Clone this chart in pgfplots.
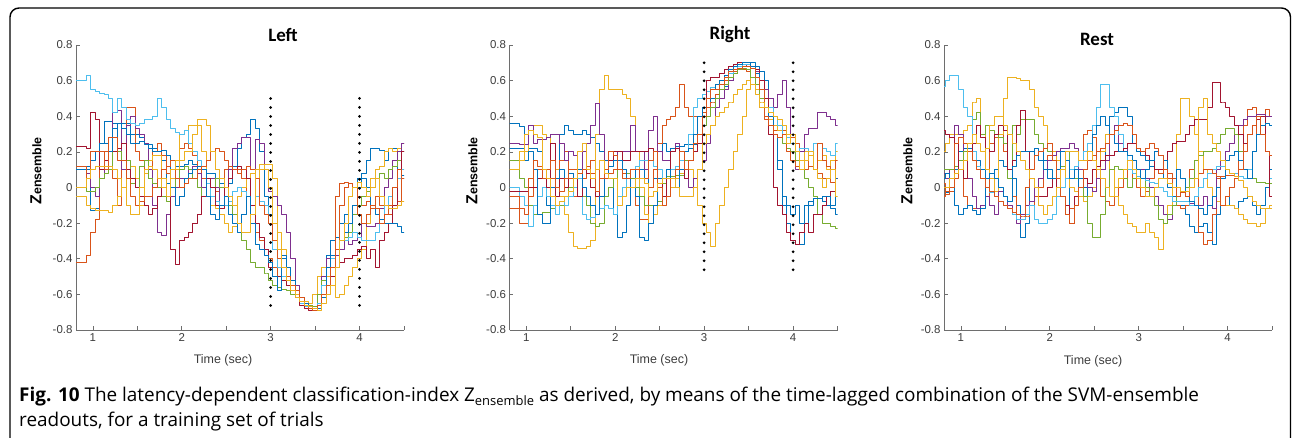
\documentclass[border=0pt]{standalone}
\usepackage{pgfplots}
\pgfplotsset{compat=1.18}
\usepackage{fontspec}
\setmainfont{Liberation Sans}
\newfontfamily\capfont{Open Sans}
\newfontfamily\titlefont{Carlito}
\definecolor{c1}{RGB}{0,114,189}
\definecolor{c2}{RGB}{217,83,25}
\definecolor{c3}{RGB}{237,177,32}
\definecolor{c4}{RGB}{126,47,142}
\definecolor{c5}{RGB}{119,172,48}
\definecolor{c6}{RGB}{77,190,238}
\definecolor{c7}{RGB}{162,20,47}
\definecolor{axgray}{RGB}{110,110,110}
\definecolor{labgray}{RGB}{60,60,60}
\newcommand{\series}[2]{\addplot[#1] table[x expr={0.8+0.05*\coordindex}, y index=0, header=false, row sep=\\]{#2};}
\pgfplotsset{
 panel/.style={
  scale only axis, width=328bp, height=285bp, anchor=south west,
  xmin=0.81, xmax=4.5, ymin=-0.8, ymax=0.8,
  axis x line*=bottom, axis y line*=left,
  axis line style={axgray, line width=0.7bp, -},
  xtick={1,2,3,4}, xticklabels={1,2,3,4},
  minor xtick={1.5,2.5,3.5,4.5},
  ytick={-0.8,-0.6,-0.4,-0.2,0,0.2,0.4,0.6,0.8},
  yticklabels={-0.8,-0.6,-0.4,-0.2,0,0.2,0.4,0.6,0.8},
  tick align=inside, major tick length=3.5bp, minor tick length=3.5bp,
  tick style={axgray, line width=0.7bp},
  ticklabel style={font=\fontsize{11.5}{12}\selectfont, text=labgray},
  every axis plot/.append style={line width=0.9bp, line join=round, mark=none, const plot mark mid},
 },
 vdots/.style={black, line width=3bp, line cap=round, dash pattern=on 0bp off 9bp, sharp plot},
}
\begin{document}
\begin{tikzpicture}[x=1bp,y=1bp]
\useasboundingbox (0,0) rectangle (1292,438);
\draw[line width=1.4bp, rounded corners=9bp] (10,-10) -- (10,430) -- (1290.5,430) -- (1290.5,-10);
% ---------------- LEFT ----------------
\begin{axis}[panel, at={(76bp,108bp)}]
\series{c1}{0.10\\0.10\\0.10\\0.10\\-0.13\\-0.12\\0.25\\0.37\\0.37\\0.36\\0.22\\0.36\\0.36\\0.30\\0.30\\0.28\\0.25\\0.24\\0.22\\0.20\\0.15\\0.02\\-0.05\\0.12\\0.12\\0.13\\0.15\\0.13\\0.12\\0.10\\0.08\\0.08\\0.05\\0.02\\-0.05\\0.02\\0.12\\0.22\\0.28\\0.30\\0.38\\0.33\\0.20\\-0.05\\-0.15\\-0.30\\-0.35\\-0.40\\-0.45\\-0.52\\-0.60\\-0.65\\-0.66\\-0.67\\-0.68\\-0.60\\-0.45\\-0.38\\-0.30\\-0.28\\-0.20\\-0.15\\-0.05\\0.00\\0.05\\0.08\\0.15\\0.22\\0.22\\0.21\\0.15\\0.22\\0.22\\0.05\\0.07\\0.06\\0.10\\}
\series{c2}{-0.42\\-0.42\\-0.42\\-0.38\\-0.25\\-0.18\\0.10\\0.20\\0.20\\0.05\\-0.10\\0.10\\0.45\\0.45\\0.20\\0.15\\0.10\\0.05\\0.20\\0.25\\0.18\\0.08\\0.10\\0.15\\0.22\\0.25\\0.22\\0.18\\0.12\\0.05\\0.02\\-0.05\\-0.02\\0.05\\0.10\\0.12\\0.10\\0.10\\0.05\\-0.05\\-0.15\\-0.25\\-0.30\\-0.35\\-0.40\\-0.45\\-0.50\\-0.52\\-0.55\\-0.58\\-0.62\\-0.65\\-0.67\\-0.68\\-0.69\\-0.66\\-0.60\\-0.50\\-0.40\\-0.05\\0.02\\0.03\\0.02\\0.00\\-0.05\\-0.10\\-0.08\\-0.12\\-0.05\\-0.10\\-0.15\\-0.15\\-0.10\\-0.08\\0.05\\0.07\\0.08\\}
\series{c3}{-0.05\\-0.05\\-0.05\\-0.10\\-0.12\\-0.13\\-0.13\\-0.13\\-0.14\\-0.10\\-0.05\\0.00\\0.10\\0.12\\0.05\\-0.10\\0.08\\0.15\\0.18\\0.18\\0.05\\-0.05\\0.05\\0.10\\0.30\\0.32\\0.35\\0.35\\0.35\\0.20\\0.05\\-0.10\\-0.12\\-0.15\\-0.20\\-0.25\\-0.22\\-0.05\\0.00\\0.05\\0.08\\0.05\\0.10\\0.13\\0.13\\0.05\\-0.25\\-0.35\\-0.45\\-0.55\\-0.60\\-0.62\\-0.64\\-0.65\\-0.60\\-0.50\\-0.45\\-0.50\\-0.55\\-0.62\\-0.60\\-0.55\\-0.50\\-0.45\\-0.40\\-0.35\\-0.20\\0.05\\0.10\\0.12\\0.20\\0.22\\0.20\\0.22\\0.25\\0.30\\0.35\\}
\series{c4}{0.12\\0.12\\0.12\\0.08\\0.00\\-0.05\\0.05\\0.15\\0.20\\0.42\\0.43\\0.10\\0.35\\0.40\\0.33\\0.30\\0.25\\0.10\\-0.10\\-0.25\\-0.27\\-0.15\\-0.05\\0.00\\0.05\\0.05\\0.10\\0.12\\0.08\\0.00\\-0.05\\0.05\\0.00\\-0.10\\-0.05\\0.10\\0.22\\0.25\\0.28\\0.28\\0.10\\0.27\\0.25\\0.10\\-0.02\\-0.05\\-0.10\\-0.15\\-0.25\\-0.40\\-0.55\\-0.62\\-0.65\\-0.66\\-0.67\\-0.60\\-0.50\\-0.40\\-0.40\\-0.38\\-0.35\\-0.30\\-0.32\\-0.30\\-0.28\\-0.20\\-0.22\\-0.22\\-0.20\\-0.12\\0.00\\0.05\\0.15\\0.20\\0.25\\0.33\\0.36\\}
\series{c5}{0.00\\0.00\\0.00\\-0.02\\-0.02\\0.00\\0.05\\0.08\\0.10\\0.20\\0.20\\0.15\\0.15\\0.02\\0.00\\0.12\\0.15\\0.05\\0.02\\0.00\\-0.05\\-0.08\\0.00\\0.05\\0.10\\0.12\\0.10\\0.05\\0.00\\-0.05\\-0.05\\0.00\\0.05\\0.00\\-0.05\\-0.10\\-0.15\\-0.20\\-0.30\\-0.35\\-0.42\\-0.45\\-0.45\\-0.48\\-0.52\\-0.55\\-0.56\\-0.57\\-0.58\\-0.60\\-0.62\\-0.64\\-0.65\\-0.66\\-0.67\\-0.60\\-0.52\\-0.45\\-0.38\\-0.35\\-0.30\\-0.28\\-0.25\\-0.15\\-0.10\\-0.05\\-0.02\\0.00\\0.05\\0.08\\0.05\\0.10\\0.12\\0.15\\0.20\\0.22\\0.15\\}
\series{c6}{0.60\\0.60\\0.60\\0.63\\0.55\\0.54\\0.53\\0.52\\0.50\\0.42\\0.50\\0.45\\0.38\\0.36\\0.35\\0.36\\0.38\\0.38\\0.40\\0.50\\0.45\\0.38\\0.33\\0.31\\0.30\\0.32\\0.25\\0.20\\0.15\\0.10\\0.02\\-0.05\\-0.08\\-0.10\\-0.10\\-0.08\\-0.02\\0.00\\-0.02\\-0.05\\-0.10\\-0.05\\-0.08\\-0.10\\-0.20\\-0.35\\-0.45\\-0.50\\-0.55\\-0.58\\-0.62\\-0.65\\-0.67\\-0.68\\-0.68\\-0.65\\-0.55\\-0.45\\-0.40\\-0.35\\-0.30\\-0.30\\-0.28\\-0.25\\-0.28\\-0.30\\-0.30\\-0.30\\-0.25\\-0.20\\-0.10\\-0.05\\0.00\\0.05\\0.10\\0.12\\0.10\\}
\series{c7}{0.23\\0.23\\0.23\\0.22\\0.42\\0.38\\0.10\\0.15\\0.20\\0.20\\0.22\\0.25\\0.10\\0.05\\0.00\\-0.05\\-0.10\\-0.15\\-0.12\\-0.05\\0.00\\-0.05\\-0.35\\-0.43\\-0.30\\-0.28\\-0.25\\-0.20\\-0.15\\-0.05\\0.05\\0.00\\-0.10\\-0.12\\0.00\\0.05\\0.10\\0.12\\0.10\\0.05\\-0.10\\-0.20\\-0.28\\-0.35\\-0.45\\-0.50\\-0.50\\-0.52\\-0.55\\-0.58\\-0.62\\-0.66\\-0.68\\-0.69\\-0.69\\-0.66\\-0.62\\-0.55\\-0.50\\-0.45\\-0.42\\-0.40\\-0.40\\-0.38\\-0.35\\-0.33\\-0.40\\-0.35\\-0.45\\-0.30\\-0.25\\-0.20\\-0.10\\0.10\\0.20\\0.22\\0.25\\}
\series{c1}{0.10\\0.10\\0.10\\0.12\\0.15\\0.20\\0.25\\0.25\\0.20\\0.33\\0.36\\0.33\\0.30\\0.25\\0.25\\0.26\\0.24\\0.22\\0.20\\0.20\\0.21\\0.18\\0.00\\-0.10\\-0.05\\0.05\\0.08\\0.10\\0.12\\0.10\\-0.05\\-0.15\\-0.18\\-0.10\\-0.05\\-0.15\\-0.20\\-0.25\\-0.15\\-0.05\\-0.20\\-0.32\\-0.35\\-0.38\\-0.42\\-0.50\\-0.58\\-0.38\\-0.45\\-0.52\\-0.58\\-0.62\\-0.65\\-0.67\\-0.68\\-0.68\\-0.62\\-0.45\\-0.38\\-0.35\\-0.30\\-0.25\\-0.20\\-0.10\\0.00\\0.05\\0.00\\-0.10\\-0.15\\-0.18\\-0.20\\-0.20\\-0.20\\-0.22\\-0.25\\-0.28\\-0.30\\}
\series{c2}{0.12\\0.12\\0.12\\0.05\\0.20\\0.20\\0.20\\0.10\\0.28\\0.28\\0.15\\0.15\\0.05\\-0.05\\-0.10\\-0.08\\-0.05\\-0.05\\0.00\\0.05\\0.10\\0.12\\0.15\\0.05\\0.00\\0.02\\0.05\\0.05\\0.10\\0.12\\0.15\\0.20\\0.22\\0.20\\0.15\\0.12\\0.10\\0.08\\0.10\\0.12\\0.10\\0.05\\-0.10\\-0.15\\-0.20\\-0.30\\-0.40\\-0.45\\-0.50\\-0.55\\-0.58\\-0.62\\-0.66\\-0.68\\-0.69\\-0.66\\-0.60\\-0.55\\-0.45\\-0.35\\-0.10\\0.00\\0.02\\0.00\\-0.15\\-0.20\\-0.15\\-0.10\\-0.12\\-0.20\\-0.15\\-0.10\\0.00\\0.10\\0.05\\0.07\\0.08\\}
\series{c3}{0.00\\0.00\\0.00\\0.05\\0.10\\0.12\\0.12\\0.12\\0.12\\0.10\\0.05\\0.00\\-0.10\\-0.15\\-0.15\\0.00\\0.10\\0.12\\0.10\\0.05\\0.00\\-0.05\\0.10\\0.15\\0.15\\0.20\\0.20\\0.30\\0.38\\0.38\\0.35\\0.20\\0.10\\0.05\\0.00\\-0.05\\-0.10\\-0.20\\-0.25\\-0.25\\-0.15\\0.10\\0.13\\0.10\\0.00\\-0.20\\-0.35\\-0.45\\-0.52\\-0.58\\-0.62\\-0.64\\-0.66\\-0.67\\-0.68\\-0.69\\-0.65\\-0.60\\-0.55\\-0.45\\-0.30\\-0.20\\-0.05\\0.00\\0.03\\0.00\\-0.05\\0.00\\0.05\\-0.05\\-0.10\\-0.12\\-0.12\\-0.10\\-0.08\\-0.05\\-0.05\\}
\addplot[vdots] coordinates {(3,0.5) (3,-0.7)};
\addplot[vdots] coordinates {(4,0.5) (4,-0.7)};
\end{axis}
% ---------------- RIGHT ----------------
\begin{axis}[panel, at={(509.5bp,108bp)}]
\series{c1}{0.36\\0.36\\0.36\\0.34\\0.30\\0.22\\0.22\\0.20\\0.05\\-0.10\\0.00\\0.05\\0.30\\0.35\\0.32\\0.30\\0.30\\0.32\\0.30\\0.28\\0.25\\0.20\\0.15\\0.05\\-0.15\\-0.28\\-0.25\\-0.10\\0.05\\0.10\\0.10\\0.05\\0.00\\0.05\\0.20\\0.25\\0.20\\0.22\\0.23\\0.23\\0.24\\0.24\\0.24\\0.25\\0.35\\0.45\\0.50\\0.52\\0.55\\0.57\\0.60\\0.65\\0.68\\0.70\\0.70\\0.70\\0.68\\0.65\\0.60\\0.50\\0.30\\0.10\\-0.10\\-0.20\\-0.30\\-0.32\\-0.32\\-0.20\\-0.10\\-0.06\\-0.06\\-0.08\\-0.10\\-0.12\\-0.15\\-0.18\\-0.20\\}
\series{c2}{-0.12\\-0.12\\-0.12\\-0.20\\-0.20\\-0.05\\0.10\\0.10\\0.05\\0.00\\0.05\\0.10\\0.15\\0.20\\0.05\\-0.05\\0.10\\0.05\\0.12\\0.15\\0.10\\0.05\\0.05\\0.08\\0.10\\0.10\\0.08\\0.05\\0.00\\-0.10\\-0.18\\-0.18\\0.00\\0.10\\0.25\\0.35\\0.38\\0.40\\0.45\\0.58\\0.45\\0.40\\0.40\\0.40\\0.42\\0.45\\0.48\\0.52\\0.55\\0.60\\0.62\\0.65\\0.66\\0.66\\0.65\\0.62\\0.55\\0.45\\0.38\\0.35\\0.32\\0.32\\0.32\\0.30\\0.28\\0.25\\0.20\\0.15\\0.12\\0.10\\0.08\\0.05\\0.05\\0.03\\0.05\\0.10\\0.10\\}
\series{c3}{0.15\\0.15\\0.15\\0.20\\0.20\\0.35\\0.35\\0.35\\0.30\\0.28\\0.25\\0.10\\-0.05\\-0.15\\-0.25\\-0.33\\-0.34\\-0.34\\-0.33\\-0.30\\0.30\\0.55\\0.63\\0.55\\0.55\\0.55\\0.52\\0.50\\0.40\\0.20\\0.00\\-0.15\\-0.20\\-0.15\\-0.10\\-0.05\\-0.05\\0.00\\0.05\\0.08\\0.10\\0.10\\0.05\\-0.10\\-0.20\\-0.25\\-0.33\\-0.20\\-0.10\\0.00\\0.10\\0.20\\0.30\\0.40\\0.55\\0.68\\0.55\\0.45\\0.40\\0.38\\0.35\\0.32\\0.30\\0.30\\0.25\\0.20\\0.15\\0.20\\0.18\\0.25\\0.15\\0.18\\0.10\\0.15\\0.20\\0.15\\0.18\\}
\series{c4}{0.25\\0.25\\0.25\\0.24\\0.24\\0.35\\0.25\\0.27\\0.27\\0.28\\0.30\\0.30\\0.25\\0.15\\0.20\\0.18\\0.10\\0.20\\0.25\\0.35\\0.47\\0.30\\0.10\\0.15\\0.18\\0.20\\0.20\\0.20\\0.35\\0.20\\0.20\\0.10\\0.32\\0.40\\0.20\\0.15\\0.15\\0.20\\0.25\\0.10\\0.05\\0.00\\0.05\\0.10\\0.15\\0.25\\0.35\\0.45\\0.50\\0.55\\0.60\\0.64\\0.66\\0.68\\0.69\\0.68\\0.65\\0.60\\0.55\\0.50\\0.45\\0.52\\0.60\\0.45\\0.30\\0.10\\0.20\\0.30\\0.33\\0.33\\0.42\\0.42\\0.40\\0.38\\0.35\\0.30\\0.30\\}
\series{c5}{0.15\\0.15\\0.15\\0.05\\0.00\\-0.10\\-0.15\\-0.15\\-0.14\\-0.14\\-0.12\\-0.10\\-0.10\\-0.05\\0.00\\0.05\\0.05\\-0.05\\-0.10\\-0.20\\-0.22\\-0.20\\-0.05\\0.00\\0.05\\0.10\\0.10\\0.08\\0.05\\0.00\\-0.05\\-0.10\\-0.10\\-0.10\\-0.08\\0.02\\0.06\\0.06\\0.07\\0.07\\0.15\\0.15\\0.20\\0.25\\0.35\\0.40\\0.45\\0.50\\0.55\\0.58\\0.62\\0.64\\0.66\\0.67\\0.66\\0.62\\0.58\\0.50\\0.40\\0.35\\0.30\\0.28\\0.25\\0.22\\0.20\\0.15\\0.10\\0.05\\0.00\\-0.05\\-0.15\\-0.20\\-0.20\\-0.22\\-0.23\\-0.24\\-0.12\\}
\series{c6}{0.00\\0.00\\0.00\\-0.05\\-0.10\\-0.22\\-0.10\\-0.05\\0.00\\-0.05\\-0.10\\-0.15\\-0.08\\-0.10\\-0.05\\0.00\\0.05\\-0.15\\-0.18\\-0.17\\-0.15\\-0.12\\-0.10\\-0.12\\-0.15\\-0.05\\0.00\\0.05\\0.10\\0.12\\0.15\\0.15\\0.15\\0.12\\0.10\\0.05\\0.05\\0.10\\0.12\\0.15\\0.20\\0.30\\0.45\\0.50\\0.52\\0.54\\0.56\\0.58\\0.60\\0.62\\0.64\\0.66\\0.68\\0.69\\0.69\\0.67\\0.62\\0.55\\0.50\\0.45\\0.40\\0.35\\0.30\\0.28\\0.25\\0.20\\0.22\\0.22\\0.20\\0.25\\0.25\\0.22\\0.20\\0.18\\0.25\\0.35\\0.30\\}
\series{c7}{-0.02\\-0.02\\-0.02\\-0.02\\-0.02\\0.00\\0.00\\0.05\\0.10\\0.00\\0.25\\-0.05\\0.05\\0.00\\0.08\\0.05\\-0.05\\0.10\\0.08\\0.00\\-0.05\\0.05\\0.10\\0.15\\0.20\\0.20\\0.15\\0.15\\0.20\\0.20\\0.20\\0.20\\0.22\\0.20\\0.05\\-0.05\\0.10\\0.20\\0.22\\0.10\\0.05\\0.15\\0.20\\0.25\\0.40\\0.60\\0.62\\0.62\\0.64\\0.66\\0.68\\0.69\\0.70\\0.70\\0.70\\0.68\\0.66\\0.60\\0.50\\0.30\\0.00\\-0.10\\-0.15\\-0.25\\-0.30\\-0.32\\-0.25\\-0.20\\-0.25\\-0.15\\-0.15\\-0.10\\-0.05\\-0.02\\0.05\\0.10\\0.12\\}
\series{c1}{0.22\\0.22\\0.22\\0.22\\0.15\\0.20\\0.10\\-0.15\\-0.20\\-0.20\\0.00\\0.05\\0.10\\0.05\\0.08\\0.05\\0.10\\0.00\\-0.05\\-0.10\\-0.15\\-0.05\\0.10\\0.12\\0.15\\0.15\\0.10\\0.05\\0.00\\-0.05\\-0.28\\-0.30\\-0.20\\-0.10\\0.05\\0.05\\0.10\\0.05\\0.00\\0.10\\0.20\\0.22\\0.30\\0.40\\0.45\\0.50\\0.55\\0.58\\0.60\\0.63\\0.66\\0.68\\0.69\\0.70\\0.70\\0.68\\0.64\\0.55\\0.45\\0.40\\0.30\\0.15\\-0.05\\-0.10\\-0.15\\-0.10\\-0.20\\-0.10\\-0.08\\-0.06\\-0.06\\-0.05\\-0.05\\-0.10\\0.05\\0.10\\0.20\\}
\series{c2}{-0.05\\-0.05\\-0.05\\-0.12\\-0.15\\0.05\\0.15\\0.12\\0.05\\0.10\\0.15\\0.00\\-0.02\\0.05\\0.10\\0.10\\0.08\\0.10\\0.12\\0.08\\-0.02\\0.05\\0.10\\0.20\\0.18\\0.10\\0.05\\0.05\\0.10\\0.10\\0.05\\0.05\\0.15\\0.20\\0.00\\-0.10\\-0.05\\0.05\\0.10\\0.20\\0.10\\0.15\\0.25\\0.30\\0.40\\0.50\\0.55\\0.55\\0.58\\0.62\\0.65\\0.66\\0.67\\0.68\\0.68\\0.67\\0.62\\0.55\\0.40\\0.35\\0.30\\0.28\\0.30\\0.20\\0.15\\0.12\\0.10\\0.10\\0.12\\0.10\\0.25\\0.15\\0.12\\0.10\\0.15\\0.10\\0.05\\}
\series{c3}{0.10\\0.10\\0.10\\0.15\\0.30\\0.32\\0.30\\0.28\\0.10\\0.05\\-0.05\\-0.10\\-0.08\\-0.05\\-0.02\\0.05\\0.20\\0.25\\0.10\\0.05\\0.10\\0.15\\0.08\\0.05\\0.05\\-0.10\\-0.05\\0.00\\0.00\\0.05\\0.05\\0.02\\-0.05\\-0.02\\0.02\\0.05\\0.05\\0.05\\0.00\\-0.05\\-0.05\\-0.05\\0.00\\0.10\\0.25\\0.30\\0.35\\0.40\\0.42\\0.45\\0.48\\0.52\\0.55\\0.58\\0.60\\0.58\\0.52\\0.48\\0.45\\0.42\\0.40\\0.38\\0.35\\0.25\\0.30\\0.20\\0.10\\0.15\\0.20\\0.10\\0.05\\0.00\\0.05\\0.10\\-0.05\\0.00\\0.20\\}
\addplot[vdots] coordinates {(3,0.7) (3,-0.5)};
\addplot[vdots] coordinates {(4,0.7) (4,-0.5)};
\end{axis}
% ---------------- REST ----------------
\begin{axis}[panel, at={(944bp,108bp)}]
\series{c1}{0.00\\-0.03\\0.05\\0.10\\0.20\\0.22\\0.22\\0.20\\0.15\\0.10\\0.05\\0.05\\0.10\\0.15\\0.12\\0.10\\0.05\\-0.10\\-0.28\\-0.20\\0.20\\0.22\\0.20\\0.15\\0.10\\0.05\\0.00\\-0.05\\-0.10\\0.05\\0.10\\0.05\\0.00\\-0.05\\-0.02\\0.05\\0.10\\0.30\\0.40\\0.42\\0.45\\0.45\\0.40\\0.25\\0.20\\0.18\\0.15\\0.12\\0.10\\0.08\\0.05\\0.00\\-0.05\\-0.10\\-0.10\\-0.15\\-0.22\\-0.25\\-0.22\\-0.20\\-0.25\\-0.32\\-0.15\\-0.10\\-0.05\\-0.10\\-0.12\\-0.08\\-0.06\\-0.05\\-0.10\\-0.15\\-0.10\\0.00\\0.10\\}
\series{c2}{0.02\\-0.04\\-0.02\\0.05\\0.10\\-0.05\\-0.10\\-0.12\\-0.12\\-0.10\\-0.05\\0.25\\0.28\\0.30\\0.20\\0.10\\-0.05\\-0.15\\-0.18\\-0.16\\-0.10\\-0.05\\0.00\\0.10\\0.18\\0.20\\0.05\\-0.05\\-0.15\\-0.12\\-0.05\\0.15\\0.30\\0.32\\0.28\\0.05\\-0.05\\-0.08\\-0.10\\-0.05\\0.00\\0.05\\0.10\\0.05\\0.00\\-0.05\\-0.02\\0.05\\0.10\\0.08\\0.10\\0.08\\0.05\\-0.10\\-0.12\\-0.10\\0.10\\0.05\\-0.25\\-0.32\\-0.30\\-0.15\\0.05\\0.06\\0.07\\0.07\\0.08\\0.20\\0.35\\0.44\\0.45\\0.30\\0.40\\0.44\\0.40\\}
\series{c3}{0.20\\0.25\\0.30\\0.30\\0.30\\0.32\\0.35\\0.48\\0.50\\0.30\\0.10\\0.05\\-0.02\\0.30\\0.50\\0.62\\0.62\\0.61\\0.60\\0.60\\0.55\\0.45\\0.40\\0.35\\0.25\\0.20\\0.15\\0.10\\0.05\\0.00\\-0.02\\-0.05\\-0.08\\-0.05\\0.00\\0.05\\0.20\\0.30\\0.10\\-0.05\\-0.10\\-0.15\\-0.20\\-0.22\\-0.25\\-0.25\\-0.20\\-0.25\\-0.28\\-0.35\\-0.20\\-0.10\\0.00\\0.30\\0.50\\0.50\\0.40\\0.30\\0.20\\0.10\\0.00\\-0.05\\-0.08\\-0.10\\-0.10\\-0.10\\-0.12\\-0.15\\-0.18\\-0.20\\-0.20\\-0.22\\-0.20\\-0.12\\-0.10\\}
\series{c4}{0.08\\0.05\\0.10\\0.35\\0.30\\0.20\\0.05\\-0.05\\-0.12\\-0.10\\-0.05\\-0.10\\-0.15\\-0.02\\-0.05\\-0.10\\-0.15\\-0.20\\-0.15\\-0.10\\-0.08\\0.00\\0.05\\0.10\\0.15\\0.18\\0.20\\0.22\\0.22\\0.25\\0.22\\0.10\\0.05\\0.00\\-0.02\\0.05\\0.10\\0.15\\0.30\\0.35\\0.25\\0.22\\0.18\\0.15\\0.10\\0.10\\0.05\\0.00\\-0.05\\-0.10\\-0.15\\-0.18\\-0.10\\-0.08\\-0.08\\-0.08\\-0.09\\-0.10\\-0.10\\-0.05\\-0.10\\-0.12\\0.10\\0.15\\0.20\\0.25\\0.30\\0.35\\0.38\\0.40\\0.40\\0.41\\0.41\\0.40\\0.40\\}
\series{c5}{0.10\\0.10\\0.10\\0.12\\0.15\\0.20\\0.25\\0.38\\0.42\\0.30\\0.35\\0.32\\0.30\\0.28\\0.25\\0.05\\0.35\\0.30\\0.38\\0.38\\0.38\\0.30\\0.25\\0.22\\0.20\\0.15\\0.10\\0.12\\0.20\\0.10\\0.05\\0.00\\-0.05\\-0.20\\-0.28\\-0.28\\-0.15\\0.00\\0.10\\0.12\\0.10\\0.05\\0.00\\0.05\\0.10\\0.05\\0.00\\-0.05\\-0.10\\-0.18\\-0.20\\-0.15\\-0.10\\-0.05\\-0.02\\0.00\\0.05\\0.15\\0.18\\0.20\\0.20\\0.22\\0.25\\0.30\\0.33\\0.33\\0.30\\0.20\\0.10\\0.05\\0.05\\0.03\\0.03\\0.02\\0.02\\}
\series{c6}{0.57\\0.60\\0.63\\0.63\\0.55\\0.45\\0.40\\0.20\\0.12\\0.05\\0.00\\-0.03\\-0.05\\-0.08\\-0.10\\-0.12\\-0.15\\-0.18\\-0.18\\-0.15\\-0.10\\-0.18\\-0.20\\-0.20\\-0.18\\-0.15\\-0.05\\0.00\\0.05\\0.10\\0.12\\0.15\\0.20\\0.25\\0.35\\0.45\\0.58\\0.58\\0.45\\0.40\\0.30\\0.20\\0.10\\0.08\\0.06\\0.05\\0.04\\0.03\\0.02\\0.00\\-0.02\\-0.05\\-0.08\\-0.08\\-0.08\\-0.08\\-0.10\\-0.05\\0.00\\0.05\\0.08\\0.10\\0.12\\0.12\\0.10\\0.08\\0.08\\0.06\\0.05\\0.10\\0.20\\0.30\\0.35\\0.20\\0.05\\}
\series{c7}{0.32\\0.30\\0.28\\0.25\\0.10\\0.05\\0.20\\0.25\\0.35\\0.28\\0.22\\0.20\\0.30\\0.35\\0.32\\0.10\\0.15\\0.35\\0.43\\0.20\\0.05\\0.00\\-0.05\\-0.05\\0.00\\0.05\\0.00\\-0.05\\-0.10\\-0.20\\-0.05\\0.00\\0.05\\0.02\\0.10\\0.12\\0.15\\0.18\\0.18\\0.20\\0.20\\0.22\\0.25\\0.25\\0.22\\0.20\\0.18\\0.15\\0.10\\0.10\\0.15\\0.20\\0.25\\0.26\\0.26\\0.30\\0.35\\0.38\\0.38\\0.38\\0.45\\0.59\\0.59\\0.48\\0.45\\0.40\\0.35\\0.30\\0.25\\0.30\\0.35\\0.38\\0.40\\0.20\\-0.05\\}
\series{c1}{0.05\\0.08\\0.00\\-0.10\\-0.15\\-0.12\\-0.10\\-0.13\\-0.15\\-0.12\\0.05\\0.08\\0.05\\0.00\\-0.05\\-0.08\\0.12\\0.18\\0.20\\0.20\\0.20\\0.18\\0.15\\0.10\\0.05\\0.05\\0.10\\0.20\\0.15\\0.05\\0.10\\0.00\\0.10\\0.20\\0.30\\0.35\\0.40\\0.35\\0.30\\0.25\\0.20\\0.20\\0.18\\0.15\\0.10\\0.05\\0.10\\0.15\\0.20\\0.18\\0.15\\0.05\\0.00\\0.10\\0.05\\-0.05\\-0.08\\-0.10\\-0.12\\-0.15\\-0.10\\-0.05\\0.00\\0.05\\0.15\\0.18\\0.20\\0.15\\0.10\\0.05\\0.20\\0.30\\0.35\\0.36\\0.35\\}
\series{c2}{-0.05\\-0.02\\0.00\\0.25\\0.28\\0.25\\0.20\\0.15\\0.10\\0.05\\0.00\\-0.02\\-0.05\\-0.08\\-0.10\\-0.12\\-0.14\\-0.15\\-0.16\\0.00\\0.10\\0.18\\0.20\\0.22\\0.25\\0.15\\0.05\\-0.05\\-0.15\\-0.20\\-0.10\\0.00\\0.10\\0.15\\0.18\\0.20\\0.22\\0.25\\0.30\\0.32\\0.35\\0.36\\0.35\\0.30\\0.22\\0.20\\0.22\\0.25\\0.22\\0.18\\0.10\\0.05\\0.00\\-0.05\\-0.03\\-0.05\\0.00\\0.05\\0.08\\0.10\\0.10\\0.08\\0.06\\-0.10\\-0.05\\0.00\\0.05\\0.10\\0.20\\0.30\\0.35\\0.40\\0.30\\0.20\\0.18\\}
\series{c3}{0.00\\0.00\\0.05\\0.08\\0.10\\0.15\\0.25\\0.30\\0.25\\0.20\\0.22\\0.35\\0.40\\0.40\\0.35\\0.30\\0.25\\0.20\\0.15\\0.10\\0.05\\0.00\\-0.10\\-0.15\\-0.10\\-0.05\\0.00\\0.10\\0.20\\0.20\\0.20\\0.15\\0.15\\0.20\\0.15\\0.10\\0.05\\0.00\\-0.05\\0.00\\0.05\\0.10\\0.15\\0.10\\0.05\\0.00\\-0.05\\-0.05\\0.00\\0.05\\0.05\\0.02\\0.00\\0.00\\-0.02\\-0.02\\0.00\\0.05\\0.45\\0.50\\0.30\\0.25\\0.20\\0.15\\0.10\\0.08\\0.06\\0.04\\0.00\\-0.05\\-0.08\\-0.10\\-0.12\\-0.12\\-0.12\\}
\end{axis}
% ---------------- texts ----------------
\begin{scope}[every node/.style={inner sep=0pt}]
\node[font=\titlefont\bfseries\fontsize{19}{20}\selectfont] at (283,403) {Left};
\node[font=\titlefont\bfseries\fontsize{19}{20}\selectfont] at (730,404) {Right};
\node[font=\titlefont\bfseries\fontsize{19}{20}\selectfont] at (1097,399) {Rest};
\foreach \xx in {36,472,907}{
 \node[rotate=90, font=\bfseries] at (\xx,267) {{\fontsize{16}{16}\selectfont Z}{\fontsize{12.5}{13}\selectfont ensemble}};
}
\foreach \xx/\yy in {223/78,659/78,1093/77}{
 \node[font=\fontsize{12.5}{13}\selectfont, text=labgray] at (\xx,\yy) {Time (sec)};
}
\node[anchor=base west, font=\capfont\fontsize{19}{22}\selectfont] at (19,36) {\textbf{Fig. 10} The latency-dependent classification-index Z\raisebox{-0.3ex}{\fontsize{13}{13}\selectfont ensemble} as derived, by means of the time-lagged combination of the SVM-ensemble};
\node[anchor=base west, font=\capfont\fontsize{19}{22}\selectfont] at (19,11) {readouts, for a training set of trials};
\end{scope}
\end{tikzpicture}
\end{document}
